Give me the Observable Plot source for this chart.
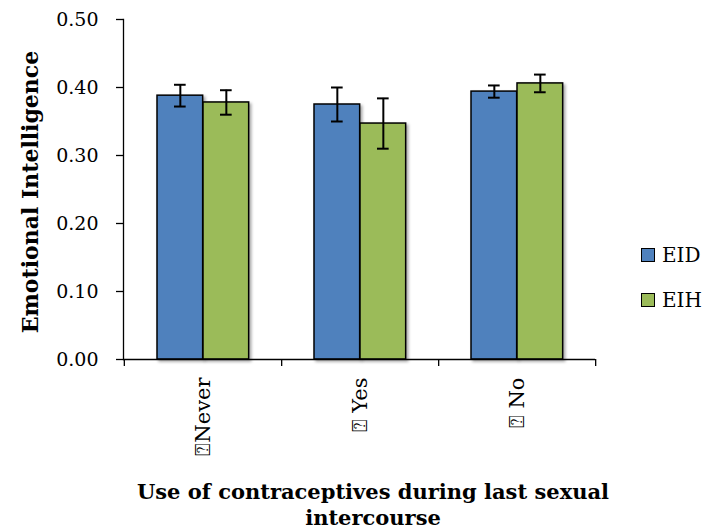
<!DOCTYPE html>
<html>
<head>
<meta charset="utf-8">
<script src="https://cdn.jsdelivr.net/npm/d3@7"></script>
<script src="https://cdn.jsdelivr.net/npm/@observablehq/plot@0.6"></script>
<style>
  html, body { margin: 0; padding: 0; background: #fff; }
  #wrap { position: relative; width: 705px; height: 531px; font-family: "DejaVu Serif", serif; color: #000; }
  #wrap svg g[aria-label="bar"] { filter: drop-shadow(2px 2px 1.5px rgba(0,0,0,0.35)); }
  .leg { position: absolute; left: 641px; font-size: 20px; display: flex; align-items: center; }
  .sw { width: 12px; height: 12px; border: 1.5px solid #000; margin-right: 7px; }
  .ytitle { position: absolute; left: 30px; top: 192px; transform: translate(-50%, -50%) rotate(-90deg); white-space: nowrap; font-weight: bold; font-size: 22px; }
  .xtitle { position: absolute; left: 373px; top: 505px; transform: translate(-50%, -50%); text-align: center; white-space: nowrap; font-weight: bold; font-size: 21px; line-height: 26px; }
</style>
</head>
<body>
<div id="wrap"></div>
<script>
const categories = ["\u2370Never", "\u2370 Yes", "\u2370 No"];
const seriesNames = ["EID", "EIH"];
const seriesColors = ["#4F81BD", "#9BBB59"];
const eidValues = [0.388, 0.375, 0.394];
const eihValues = [0.378, 0.347, 0.406];
const eidErrors = [0.016, 0.025, 0.009];
const eihErrors = [0.018, 0.037, 0.013];
const yTicks = [0, 0.1, 0.2, 0.3, 0.4, 0.5];
const yTitle = "Emotional Intelligence";
const xTitleLines = ["Use of contraceptives during last sexual", "intercourse"];

const eidRows = categories.map((c, i) => ({cat: c, series: seriesNames[0], value: eidValues[i], err: eidErrors[i]}));
const eihRows = categories.map((c, i) => ({cat: c, series: seriesNames[1], value: eihValues[i], err: eihErrors[i]}));

const W = 705, H = 531, ML = 123, MR = 110, MT = 19, MB = 172;
const bw = (W - ML - MR) / categories.length;
const half = bw / 2;
const font = "DejaVu Serif";

function errMarks(rows, center) {
  return [
    Plot.ruleX(rows, {x: "cat", y1: d => d.value - d.err, y2: d => d.value + d.err, dx: center - half, stroke: "#000", strokeWidth: 2}),
    Plot.tickY(rows, {x: "cat", y: d => d.value + d.err, insetLeft: center - 6, insetRight: bw - center - 6, stroke: "#000", strokeWidth: 2}),
    Plot.tickY(rows, {x: "cat", y: d => d.value - d.err, insetLeft: center - 6, insetRight: bw - center - 6, stroke: "#000", strokeWidth: 2})
  ];
}

const chart = Plot.plot({
  width: W, height: H,
  marginLeft: ML, marginRight: MR, marginTop: MT, marginBottom: MB,
  style: {fontFamily: font, fontSize: "19px", color: "#000", background: "#fff"},
  x: {domain: categories, padding: 0, axis: null},
  y: {domain: [0, 0.5], axis: null},
  marks: [
    Plot.barY(eidRows, {x: "cat", y: "value", fill: seriesColors[0], stroke: "#000", strokeWidth: 1.5, insetLeft: 33, insetRight: bw - 79}),
    Plot.barY(eihRows, {x: "cat", y: "value", fill: seriesColors[1], stroke: "#000", strokeWidth: 1.5, insetLeft: 79, insetRight: bw - 125}),
    ...errMarks(eidRows, 56),
    ...errMarks(eihRows, 102),
    Plot.ruleY([0], {stroke: "#000", strokeWidth: 1.3}),
    Plot.frame({anchor: "left", stroke: "#000", strokeWidth: 1.3}),
    Plot.axisY({ticks: yTicks, tickFormat: d3.format(".2f"), tickSize: 7, tickPadding: 18, fontSize: 19, label: null, strokeWidth: 1.3}),
    Plot.axisX({ticks: categories, tickSize: 7, dx: half, tickFormat: () => "", label: null, strokeWidth: 1.3}),
    Plot.axisX({ticks: [categories[0]], tickSize: 7, dx: -half, tickFormat: () => "", label: null, strokeWidth: 1.3}),
    Plot.axisX({ticks: categories, tickSize: 0, tickPadding: 18, tickRotate: -90, fontSize: 21, label: null})
  ]
});

const wrap = document.getElementById("wrap");
wrap.appendChild(chart);

const yt = document.createElement("div");
yt.className = "ytitle";
yt.textContent = yTitle;
wrap.appendChild(yt);

const xt = document.createElement("div");
xt.className = "xtitle";
xt.innerHTML = xTitleLines.join("<br>");
wrap.appendChild(xt);

seriesNames.forEach((s, i) => {
  const d = document.createElement("div");
  d.className = "leg";
  d.style.top = (243 + i * 45) + "px";
  d.innerHTML = `<span class="sw" style="background:${seriesColors[i]}"></span><span>${s}</span>`;
  wrap.appendChild(d);
});
</script>
</body>
</html>
